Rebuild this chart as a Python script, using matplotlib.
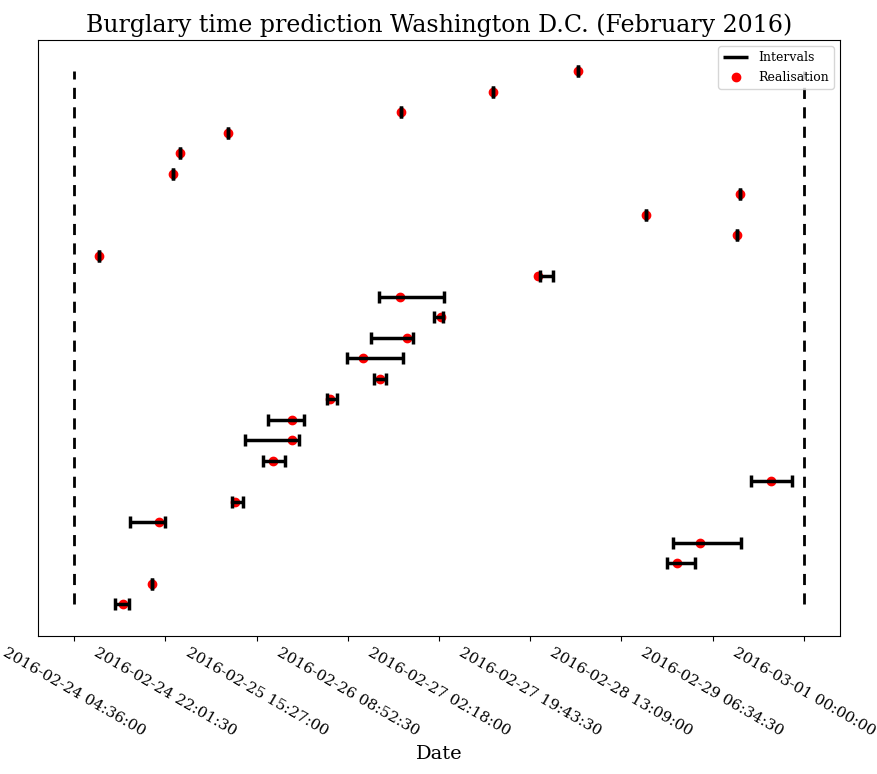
import numpy as np
import pandas as pd
import matplotlib
matplotlib.use("Agg")
import matplotlib.pyplot as plt
import matplotlib.dates as mdates

plt.rcParams['font.family'] = ['DejaVu Serif']

# Dados (uma linha por evento, de baixo para cima)
realisation = [
    "2016-02-24 13:58", "2016-02-24 19:28", "2016-02-28 23:51", "2016-02-29 04:10",
    "2016-02-24 20:51", "2016-02-25 11:23", "2016-02-29 17:41", "2016-02-25 18:31",
    "2016-02-25 22:09", "2016-02-25 22:09", "2016-02-26 05:33", "2016-02-26 15:04",
    "2016-02-26 11:44", "2016-02-26 20:13", "2016-02-27 02:47", "2016-02-26 18:56",
    "2016-02-27 21:11", "2016-02-24 09:15", "2016-02-29 11:14", "2016-02-28 17:47",
    "2016-02-29 11:46", "2016-02-24 23:24", "2016-02-25 00:52", "2016-02-25 09:55",
    "2016-02-26 19:04", "2016-02-27 12:40", "2016-02-28 04:58",
]
lower = [
    "2016-02-24 12:26", "2016-02-24 19:28", "2016-02-28 21:52", "2016-02-28 23:00",
    "2016-02-24 15:15", "2016-02-25 10:45", "2016-02-29 14:00", "2016-02-25 16:44",
    "2016-02-25 13:18", "2016-02-25 17:34", "2016-02-26 04:50", "2016-02-26 13:50",
    "2016-02-26 08:40", "2016-02-26 13:20", "2016-02-27 01:26", "2016-02-26 14:55",
    "2016-02-27 21:39", "2016-02-24 09:15", "2016-02-29 11:14", "2016-02-28 17:47",
    "2016-02-29 11:46", "2016-02-24 23:24", "2016-02-25 00:52", "2016-02-25 09:55",
    "2016-02-26 19:04", "2016-02-27 12:40", "2016-02-28 04:58",
]
upper = [
    "2016-02-24 14:59", "2016-02-24 19:28", "2016-02-29 03:09", "2016-02-29 12:05",
    "2016-02-24 22:00", "2016-02-25 12:47", "2016-02-29 21:46", "2016-02-25 20:53",
    "2016-02-25 23:29", "2016-02-26 00:35", "2016-02-26 06:46", "2016-02-26 16:12",
    "2016-02-26 19:31", "2016-02-26 21:17", "2016-02-27 03:02", "2016-02-27 03:13",
    "2016-02-28 00:04", "2016-02-24 09:15", "2016-02-29 11:14", "2016-02-28 17:47",
    "2016-02-29 11:46", "2016-02-24 23:24", "2016-02-25 00:52", "2016-02-25 09:55",
    "2016-02-26 19:04", "2016-02-27 12:40", "2016-02-28 04:58",
]
window_start = "2016-02-24 04:36:00"
window_end = "2016-03-01 00:00:00"
n_ticks = 9

real_n = mdates.date2num(pd.to_datetime(realisation))
lo_n = mdates.date2num(pd.to_datetime(lower))
hi_n = mdates.date2num(pd.to_datetime(upper))
t0 = mdates.date2num(pd.Timestamp(window_start))
t1 = mdates.date2num(pd.Timestamp(window_end))
y = np.arange(len(realisation))

fig = plt.figure(figsize=(8.77, 7.74), dpi=100)
ax = fig.add_axes([0.043, 0.178, 0.915, 0.77])

ax.vlines([t0, t1], 0, len(realisation) - 1, colors='black', linewidth=2,
          linestyles=(0, (4, 3)))
ax.scatter(real_n, y, color='red', s=36, zorder=2, label='Realisation')
ax.hlines(y, lo_n, hi_n, colors='black', linewidth=2.5, zorder=3, label='Intervals')
ax.plot(lo_n, y, '|', color='black', markersize=8, markeredgewidth=2.5, zorder=3)
ax.plot(hi_n, y, '|', color='black', markersize=8, markeredgewidth=2.5, zorder=3)

ticks = np.linspace(t0, t1, n_ticks)
ax.set_xticks(ticks)
ax.set_xticklabels([mdates.num2date(t).strftime('%Y-%m-%d %H:%M:%S') for t in ticks],
                   rotation=-30, ha='center', fontsize=11)
ax.set_yticks([])
ax.set_ylim(-1.55, 27.5)

h, l = ax.get_legend_handles_labels()
ax.legend(h[::-1], l[::-1], loc='upper right', fontsize=9)
ax.set_title('Burglary time prediction Washington D.C. (February 2016)', fontsize=17)
ax.set_xlabel('Date', fontsize=14)

plt.savefig('out.png', dpi=100)
